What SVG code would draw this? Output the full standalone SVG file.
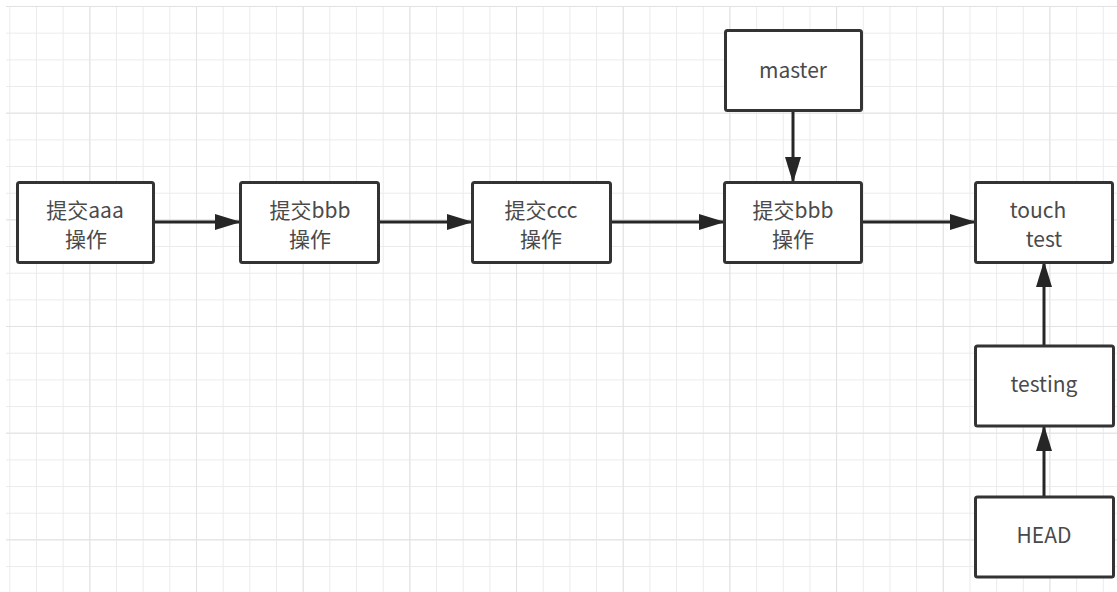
<svg xmlns="http://www.w3.org/2000/svg" width="1117" height="592" viewBox="0 0 1117 592">
<defs>
<pattern id="minor" x="9.33" y="6" width="26.67" height="26.67" patternUnits="userSpaceOnUse">
<path d="M0 0H26.67M0 0V26.67" fill="none" stroke="#ebebeb" stroke-width="2"/>
</pattern>
<pattern id="major" x="-17.33" y="6" width="106.67" height="106.67" patternUnits="userSpaceOnUse">
<path d="M0 0H106.67M0 0V106.67" fill="none" stroke="#e2e2e2" stroke-width="2"/>
</pattern>
<marker id="arr" viewBox="0 0 26 16" refX="25" refY="8" markerWidth="26" markerHeight="16" markerUnits="userSpaceOnUse" orient="auto">
<path d="M0 0L26 8L0 16Z" fill="#262626"/>
</marker>
</defs>
<style>
.box{fill:#fff;stroke:#333;stroke-width:3}
.t{font-family:"Noto Sans CJK SC","Noto Sans",sans-serif;font-size:21px;fill:#4a4a4a;text-anchor:middle}
.c{fill:none;stroke:#262626;stroke-width:3;marker-end:url(#arr)}
</style>
<rect width="1117" height="592" fill="#fff"/>
<rect x="6" y="6" width="1111" height="586" fill="url(#minor)"/>
<rect x="6" y="6" width="1111" height="586" fill="url(#major)"/>
<g id="connectors">
<path class="c" d="M154 222H240"/>
<path class="c" d="M379 222H472"/>
<path class="c" d="M611 222H724"/>
<path class="c" d="M863 222H975"/>
<path class="c" d="M793 110V182"/>
<path class="c" d="M1044 346V262"/>
<path class="c" d="M1044 497V426"/>
</g>
<g id="n1"><rect class="box" x="17.5" y="182.5" width="136" height="80" rx="2"/><text class="t" x="85" y="218">提交aaa</text><text class="t" x="86" y="247">操作</text></g>
<g id="n2"><rect class="box" x="240.5" y="182.5" width="138" height="80" rx="2"/><text class="t" x="310" y="218">提交bbb</text><text class="t" x="310" y="247">操作</text></g>
<g id="n3"><rect class="box" x="472.5" y="182.5" width="138" height="80" rx="2"/><text class="t" x="541" y="218">提交ccc</text><text class="t" x="541" y="247">操作</text></g>
<g id="n4"><rect class="box" x="724.5" y="182.5" width="137" height="80" rx="2"/><text class="t" x="793" y="218">提交bbb</text><text class="t" x="793" y="247">操作</text></g>
<g id="n5"><rect class="box" x="975.5" y="182.5" width="137" height="80" rx="2"/><text class="t" x="1038" y="218">touch</text><text class="t" x="1044" y="247">test</text></g>
<g id="master"><rect class="box" x="725.5" y="30.5" width="136" height="80" rx="2"/><text class="t" x="793" y="78">master</text></g>
<g id="testing"><rect class="box" x="975.5" y="346" width="138" height="80" rx="2"/><text class="t" x="1044" y="392">testing</text></g>
<g id="head"><rect class="box" x="975.5" y="497" width="138" height="80" rx="2"/><text class="t" x="1044" y="543">HEAD</text></g>
</svg>
